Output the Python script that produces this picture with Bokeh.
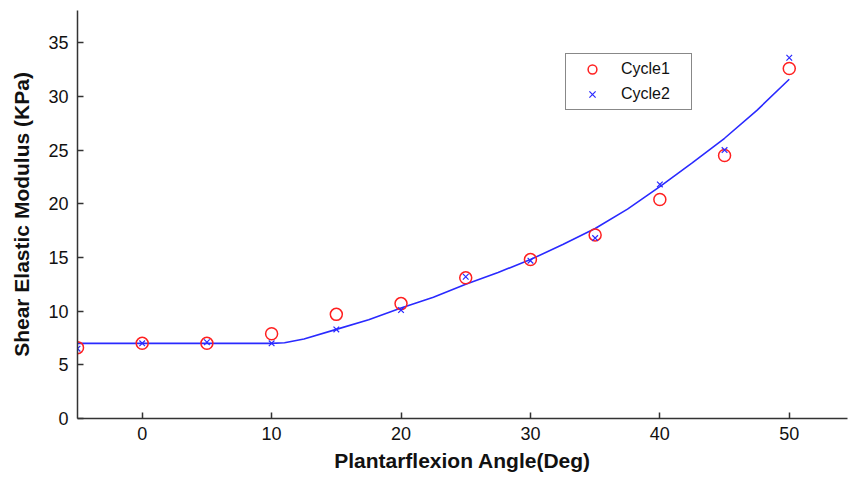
from bokeh.plotting import figure
from bokeh.models import Range1d, Legend, LegendItem, FixedTicker
from bokeh.embed import file_html
from bokeh.resources import INLINE

# Data
angles = [-5, 0, 5, 10, 15, 20, 25, 30, 35, 40, 45, 50]
cycle1 = [6.6, 7.0, 7.0, 7.9, 9.7, 10.7, 13.1, 14.8, 17.1, 20.4, 24.5, 32.6]
cycle2 = [6.5, 7.0, 7.1, 7.0, 8.3, 10.1, 13.2, 14.7, 16.8, 21.8, 25.0, 33.6]
fit_x = [-5, 0, 5, 10, 11, 12.5, 15, 17.5, 20, 22.5, 25, 27.5, 30, 32.5, 35, 37.5, 40, 42.5, 45, 47.5, 50]
fit_y = [7.0, 7.0, 7.0, 7.0, 7.05, 7.4, 8.3, 9.2, 10.3, 11.3, 12.5, 13.6, 14.8, 16.2, 17.7, 19.5, 21.6, 23.8, 26.1, 28.7, 31.6]
x_ticks = [0, 10, 20, 30, 40, 50]
y_ticks = [0, 5, 10, 15, 20, 25, 30, 35]

p = figure(width=848, height=479, output_backend="svg", toolbar_location=None,
           x_range=Range1d(-5, 54.5), y_range=Range1d(0, 38),
           min_border_left=77, min_border_right=1, min_border_top=10, min_border_bottom=61)
p.outline_line_color = None
p.grid.visible = False
p.background_fill_color = "white"
p.border_fill_color = "white"

line = p.line(fit_x, fit_y, line_color="#2a2aff", line_width=1.6)
c1 = p.scatter(angles, cycle1, marker="circle", size=12, fill_color=None,
               line_color="#ff2020", line_width=1.5)
c2 = p.scatter(angles, cycle2, marker="x", size=8, line_color="#2a2aff", line_width=1.2)

for ax in (p.xaxis[0], p.yaxis[0]):
    ax.axis_line_color = "#333333"
    ax.axis_line_width = 1.5
    ax.major_tick_line_color = "#333333"
    ax.major_tick_line_width = 1.5
    ax.major_tick_in = 6
    ax.major_tick_out = 0
    ax.minor_tick_line_color = None
    ax.major_label_text_font = "Liberation Sans"
    ax.major_label_text_font_size = "18px"
    ax.major_label_text_color = "#111111"
    ax.axis_label_text_font = "Liberation Sans"
    ax.axis_label_text_font_size = "21px"
    ax.axis_label_text_font_style = "bold"
    ax.axis_label_text_color = "#111111"

p.xaxis.ticker = FixedTicker(ticks=x_ticks)
p.yaxis.ticker = FixedTicker(ticks=y_ticks)
p.xaxis.axis_label = "Plantarflexion Angle(Deg)"
p.yaxis.axis_label = "Shear Elastic Modulus (KPa)"
p.xaxis.major_label_standoff = 8
p.yaxis.major_label_standoff = 9
p.xaxis.axis_label_standoff = 6
p.yaxis.axis_label_standoff = 12

legend = Legend(items=[LegendItem(label="Cycle1", renderers=[c1]),
                       LegendItem(label="Cycle2", renderers=[c2])],
                location=(488, 308))
legend.border_line_color = "#111111"
legend.border_line_width = 1.3
legend.label_text_font = "Liberation Sans"
legend.label_text_font_size = "16px"
legend.label_text_color = "#111111"
legend.padding = 4
legend.spacing = 3
legend.glyph_width = 44
legend.glyph_height = 22
legend.label_height = 22
legend.label_standoff = 7
legend.margin = 0
legend.label_width = 66
legend.background_fill_alpha = 1
p.add_layout(legend)

open("out.html", "w").write(file_html(p, INLINE))
